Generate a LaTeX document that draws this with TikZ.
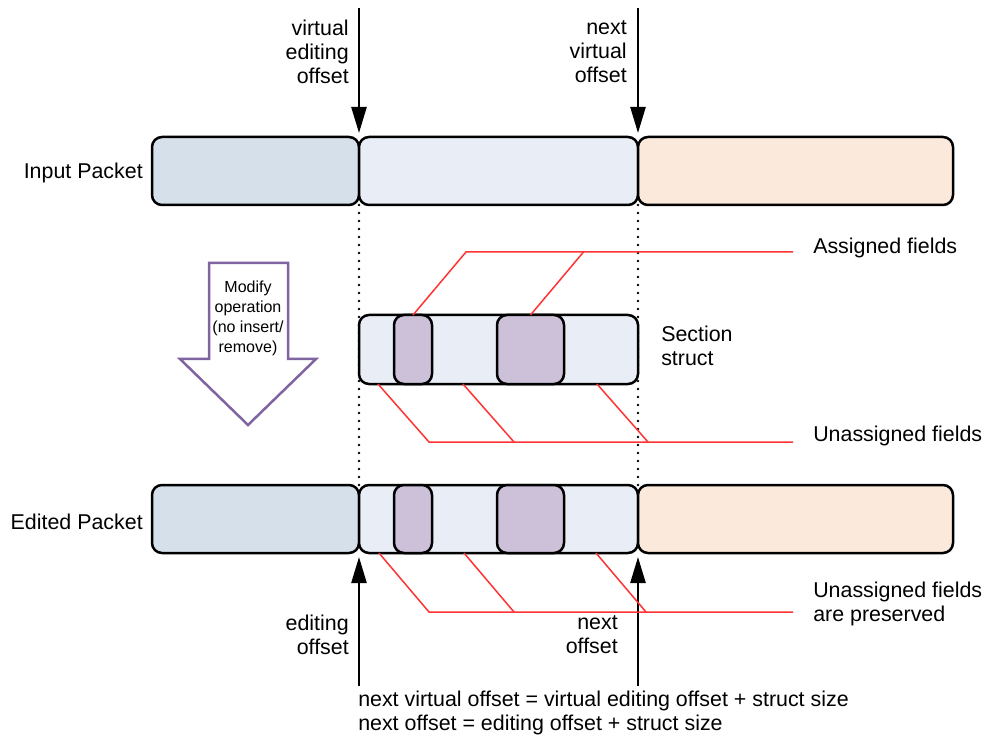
\documentclass[tikz,border=0pt]{standalone}
\usepackage{fontspec}
\setmainfont{Liberation Sans}
\usepackage{tikz}
\usetikzlibrary{arrows.meta,positioning}
\definecolor{hdrblue}{HTML}{D6E0EB}
\definecolor{secblue}{HTML}{E9EDF5}
\definecolor{tailpeach}{HTML}{FBEADB}
\definecolor{fieldpurple}{HTML}{CCC1D9}
\definecolor{fieldred}{HTML}{FF3333}
\definecolor{opviolet}{HTML}{8064A2}
\begin{document}
\begin{tikzpicture}[x=1pt,y=-1pt,>={Triangle[length=26pt,width=15pt]},line width=2.5pt,font=\fontsize{21.4}{24}\selectfont]
	\tikzstyle{seg}=[draw=black,rounded corners=10pt,minimum height=68pt,inner sep=0pt,outer sep=0pt]
	\tikzstyle{lbl}=[inner sep=0pt]
	\tikzstyle{ptr}=[->,shorten >=4pt]
	\tikzstyle{guide}=[line width=2.8pt,line cap=round,dash pattern=on 0pt off 8pt]
	\tikzstyle{callout}=[draw=fieldred,line width=1.5pt]
	\useasboundingbox (0,0) rectangle (1005,738);
	
	% input packet
	\node[seg,fill=hdrblue,minimum width=207pt] (In1) at (255.5,171) {};
	\node[seg,fill=secblue,minimum width=279pt] (In2) [right=0pt of In1] {};
	\node[seg,fill=tailpeach,minimum width=315pt] (In3) [right=0pt of In2] {};
	
	% edited packet
	\node[seg,fill=hdrblue,minimum width=207pt] (Ed1) at (255.5,519) {};
	\node[seg,fill=secblue,minimum width=279pt] (Ed2) [right=0pt of Ed1] {};
	\node[seg,fill=tailpeach,minimum width=315pt] (Ed3) [right=0pt of Ed2] {};
	\node[seg,fill=fieldpurple,minimum width=38pt] (EdF1) at (413,519) {};
	\node[seg,fill=fieldpurple,minimum width=67pt] (EdF2) at (530.5,519) {};
	
	\draw[guide] (In2.south west) -- (Ed2.north west);
	\draw[guide] (In2.south east) -- (Ed2.north east);
	
	% section struct
	\node[seg,fill=secblue,minimum width=279pt,minimum height=69pt] (Sec) at (498.5,349.5) {};
	\node[seg,fill=fieldpurple,minimum width=38pt,minimum height=69pt] (SecF1) at (413,349.5) {};
	\node[seg,fill=fieldpurple,minimum width=67pt,minimum height=69pt] (SecF2) at (530.5,349.5) {};
	
	% labels
	\node[lbl,anchor=east] (InLbl) at (144,173) {Input Packet};
	\node[lbl,anchor=east] (EdLbl) at (144,522) {Edited Packet};
	\node[lbl,anchor=east,align=right] (VEO) at (350,52) {virtual\\editing\\offset};
	\node[lbl,anchor=east,align=right] (NVO) at (628,52) {next\\virtual\\offset};
	\node[lbl,anchor=east,align=right] (EO) at (350,635) {editing\\offset};
	\node[lbl,anchor=east,align=right] (NO) at (619,635) {next\\offset};
	\node[lbl,anchor=west,align=left] (SecLbl) at (660,346) {Section\\struct};
	\node[lbl,anchor=west] (Asg) at (812,248) {Assigned fields};
	\node[lbl,anchor=west] (Uas) at (812,436) {Unassigned fields};
	\node[lbl,anchor=west,align=left] (Prs) at (812,604) {Unassigned fields\\are preserved};
	\node[lbl,anchor=west,align=left] (Eqn) at (357,713) {next virtual offset = virtual editing offset + struct size\\next offset = editing offset + struct size};
	
	% offset pointers
	\coordinate (vt) at (359,8);
	\coordinate (nt) at (638,8);
	\coordinate (eb) at (359,686);
	\coordinate (nb) at (638,686);
	\draw[ptr] (vt) -- (In2.north west);
	\draw[ptr] (nt) -- (In2.north east);
	\draw[ptr] (eb) -- (Ed2.south west);
	\draw[ptr] (nb) -- (Ed2.south east);
	
	% field callouts
	\coordinate (ka) at (793,252);
	\coordinate (ku) at (793,442);
	\coordinate (kp) at (793,612);
	\draw[callout] (SecF1.north) -- ++(53,-63) -- (ka);
	\draw[callout] (SecF2.north) -- ++(53,-63);
	\draw[callout] ([xshift=19pt]Sec.south west) -- ++(51,58) -- (ku);
	\draw[callout] ([xshift=104pt]Sec.south west) -- ++(51,58);
	\draw[callout] ([xshift=238pt]Sec.south west) -- ++(51,58);
	\draw[callout] ([xshift=20pt]Ed2.south west) -- ++(50,59) -- (kp);
	\draw[callout] ([xshift=105pt]Ed2.south west) -- ++(50,59);
	\draw[callout] ([xshift=237pt]Ed2.south west) -- ++(50,59);
	
	% modify arrow
	\draw[draw=opviolet,fill=white] (209,263) -- (288,263) -- (288,359) -- (316,359) -- (248,425) -- (180,359) -- (209,359) -- cycle;
	\node[lbl,align=center,font=\fontsize{16}{20}\selectfont] (Mod) at (248,318) {Modify\\operation\\(no insert/\\remove)};
\end{tikzpicture}
\end{document}
